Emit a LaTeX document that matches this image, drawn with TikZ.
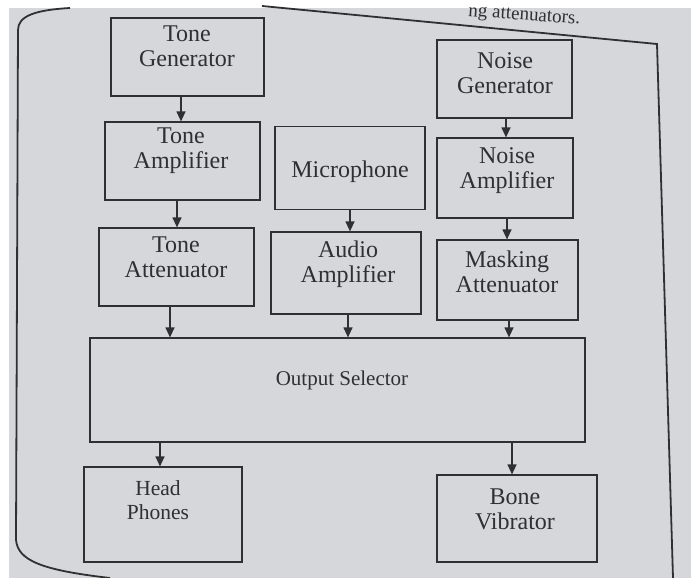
\documentclass[tikz,border=0pt]{standalone}
\usepackage{fontspec}
\setmainfont{Liberation Serif}
\usetikzlibrary{arrows.meta}
\definecolor{paper}{RGB}{214,215,218}
\definecolor{ink}{RGB}{48,48,50}
\tikzset{
  box/.style={draw=ink, line width=1.2pt, fill=none, inner sep=0pt},
  txt/.style={text=ink, font=\fontsize{24}{25}\selectfont, align=center, inner sep=0pt},
  arr/.style={draw=ink, line width=1.2pt, -{Triangle[width=9pt,length=10pt]}},
  pageframe/.style={draw=ink, line width=1.8pt}
}
\begin{document}
\begin{tikzpicture}[x=1pt,y=-1pt]
\useasboundingbox (0,0) rectangle (691,578);
\clip (0,0) rectangle (691,578);
\fill[white] (0,0) rectangle (691,578);
\fill[paper] (9,8) rectangle (691,578);
% page frame
\draw[pageframe] (110,578) .. controls (40,570) and (18,560) .. (16,540) -- (18,30) .. controls (18,16) and (35,10) .. (70,8);
\draw[pageframe] (262,6) -- (657,44) -- (673,578);
\node[txt, anchor=base east, font=\fontsize{19}{22}\selectfont, rotate=-4] (pg) at (580,24) {ng attenuators.};
% boxes
\node[box, minimum width=153pt, minimum height=78pt] (tg) at (187.5,57) {};
\node[txt] (tgt) at (187,46) {Tone\\Generator};
\node[box, minimum width=135pt, minimum height=78pt] (ng) at (504.5,79) {};
\node[txt] (ngt) at (505,73) {Noise\\Generator};
\node[box, minimum width=155pt, minimum height=78pt] (ta) at (182.5,161) {};
\node[txt] (tat) at (181,151) {Tone\\Amplifier};
\node[box, minimum width=150pt, minimum height=83pt] (mic) at (350,168) {};
\node[txt] (mict) at (350,172) {Microphone};
\node[box, minimum width=136pt, minimum height=80pt] (na) at (505,178) {};
\node[txt] (nat) at (507,171) {Noise\\Amplifier};
\node[box, minimum width=155pt, minimum height=78pt] (tat2) at (176.5,267) {};
\node[txt] (tatt) at (176,257) {Tone\\Attenuator};
\node[box, minimum width=150pt, minimum height=82pt] (aa) at (346,273) {};
\node[txt] (aat) at (348,264) {Audio\\Amplifier};
\node[box, minimum width=141pt, minimum height=80pt] (ma) at (507.5,280) {};
\node[txt] (mat) at (507,272) {Masking\\Attenuator};
\node[box, minimum width=495pt, minimum height=104pt] (os) at (337.5,390) {};
\node[txt, font=\fontsize{21}{24}\selectfont] (ost) at (342,380) {Output Selector};
\node[box, minimum width=158pt, minimum height=95pt] (hp) at (163,514.5) {};
\node[txt, font=\fontsize{21.5}{24}\selectfont] (hpt) at (158,500) {Head\\Phones};
\node[box, minimum width=160pt, minimum height=87pt] (bv) at (517,518.5) {};
\node[txt] (bvt) at (515,509) {Bone\\Vibrator};
% arrows
\draw[arr] ([xshift=-6.5pt]tg.south) -- ([xshift=-6.5pt]tg.south |- ta.north);
\draw[arr] ([xshift=-5.5pt]ta.south) -- ([xshift=-5.5pt]ta.south |- tat2.north);
\draw[arr] (mic.south) -- (mic.south |- aa.north);
\draw[arr] ([xshift=1.5pt]ng.south) -- ([xshift=1.5pt]ng.south |- na.north);
\draw[arr] ([xshift=2pt]na.south) -- ([xshift=2pt]na.south |- ma.north);
\draw[arr] ([xshift=-6.5pt]tat2.south) -- ([xshift=-6.5pt]tat2.south |- os.north);
\draw[arr] ([xshift=2pt]aa.south) -- ([xshift=2pt]aa.south |- os.north);
\draw[arr] ([xshift=1.5pt]ma.south) -- ([xshift=1.5pt]ma.south |- os.north);
\draw[arr] ([xshift=-177.5pt]os.south) -- ([xshift=-177.5pt]os.south |- hp.north);
\draw[arr] ([xshift=174.5pt]os.south) -- ([xshift=174.5pt]os.south |- bv.north);
\end{tikzpicture}
\end{document}
